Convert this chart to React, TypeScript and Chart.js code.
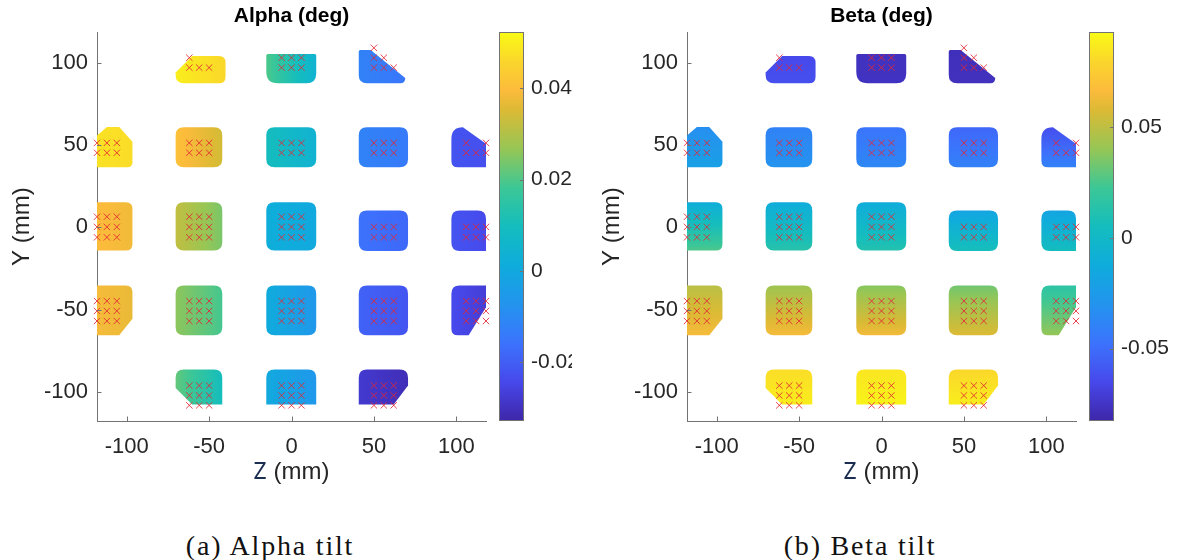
import { useEffect, useRef } from "react";
import { Chart, registerables } from "chart.js";

Chart.register(...registerables);

const SANS = '"Liberation Sans", Arial, sans-serif';
const TEXT = "#262626";
const AXIS = "#737373";
const MARK = "rgba(228, 38, 52, 0.85)";

// Axis limits and ticks (mm)
const zTicks = [-100, -50, 0, 50, 100];
const yTicks = [-100, -50, 0, 50, 100];
const zLimits = [-118, 118];
const yLimits = [-117.5, 118.5];

// Footprint of each measured patch (mm)
const patchZLo = [-70.3, -15.3, 40.8, -120, -70.3, -15.3, 40.8, 97, -120, -70.3, -15.3, 40.8, 97, -120, -70.3, -15.3, 40.8, 97, -70.3, -15.3, 40.8];
const patchZHi = [-40, 15, 69, -96.5, -42, 15, 70.7, 118, -96.5, -42, 15, 70.7, 118, -96.5, -42, 15, 70.7, 118, -42, 15, 70.7];
const patchYLo = [87.5, 87.5, 87.5, 36.5, 36.5, 36.5, 36.5, 36.5, -14, -14, -14, -14.3, -14.3, -65.5, -65.5, -65.5, -65.5, -65.5, -107.5, -107.5, -107.5];
const patchYHi = [104, 105.2, 107.7, 61, 60.8, 60.8, 60.8, 60.8, 15.3, 15.3, 15.3, 10.3, 10.3, -35.2, -35.2, -35.2, -35.2, -35.2, -86.3, -86.3, -86.3];
// Corner outline per patch [top-left, top-right, bottom-right, bottom-left]:
// a number is a rounding radius, a pair is a straight cut [dz, dy] (mm)
type Corner = number | [number, number];
const patchCorners: Corner[][] = [
  [[10, 10], 4, 4, 5],
  [1, 1, 6, 7],
  [1, [21, 17], 3, 5],
  [[8, 7], [8, 9], 3, 2],
  [5, 5, 5, 5],
  [5, 5, 5, 5],
  [5, 5, 5, 5],
  [7, [14, 10], 0, 4],
  [0, 4, 4, 0],
  [5, 5, 5, 5],
  [5, 5, 5, 5],
  [5, 5, 5, 5],
  [5, 5, 0, 5],
  [0, 4, [8, 10], 0],
  [5, 5, 5, 5],
  [5, 5, 5, 5],
  [5, 5, 5, 5],
  [5, 0, [10.5, 17], 4],
  [5, 5, 0, [10, 10]],
  [5, 5, 0, 0],
  [5, 5, [8.7, 11.5], 0],
];

// Alpha tilt (deg): value at the -Z edge and at the +Z edge of each patch
const alphaLeft = [0.05, 0.02, -0.012, 0.048, 0.041, 0.01, -0.012, -0.022, 0.04, 0.032, 0.002, -0.016, -0.022, 0.039, 0.026, 0.001, -0.019, -0.024, 0.022, 0.0, -0.028];
const alphaRight = [0.046, 0.004, -0.015, 0.047, 0.034, 0.004, -0.014, -0.023, 0.038, 0.024, 0.0, -0.018, -0.024, 0.037, 0.019, -0.006, -0.022, -0.027, 0.01, -0.006, -0.031];
const alphaRange = [-0.0329, 0.0523];
const alphaTicks = [-0.02, 0, 0.02, 0.04];

// Beta tilt (deg): value at the top edge and at the bottom edge of each patch
const betaTop = [-0.065, -0.077, -0.078, -0.033, -0.04, -0.047, -0.053, -0.063, -0.011, -0.012, -0.012, -0.018, -0.018, 0.049, 0.042, 0.037, 0.033, 0.016, 0.082, 0.085, 0.08];
const betaBottom = [-0.062, -0.076, -0.077, -0.021, -0.03, -0.037, -0.04, -0.04, 0.026, 0.014, 0.012, 0.007, 0.005, 0.065, 0.065, 0.064, 0.058, 0.04, 0.088, 0.09, 0.088];
const betaRange = [-0.0827, 0.0929];
const betaTicks = [-0.05, 0, 0.05];

// Measurement points: one row per Y, listing the Z positions in that row
const markerY = [109, 103, 97, 51.3, 45.3, 6.5, 0.3, -6, -44.7, -50.7, -56.8, -96, -102, -108];
const markerZ: number[][] = [
  [50],
  [-62, -6, 0, 6, 50, 56],
  [-62, -56, -50, -6, 0, 6, 50, 56, 62],
  [-118, -112, -106, -62, -56, -50, -6, 0, 6, 50, 56, 62, 106, 118],
  [-118, -112, -106, -62, -56, -50, -6, 0, 6, 50, 56, 62, 106, 112, 118],
  [-118, -112, -106, -62, -56, -50, -6, 0, 6],
  [-118, -112, -106, -62, -56, -50, -6, 0, 6, 50, 56, 62, 106, 112, 118],
  [-118, -112, -106, -62, -56, -50, -6, 0, 6, 50, 56, 62, 106, 112, 118],
  [-118, -112, -106, -62, -56, -50, -6, 0, 6, 50, 56, 62, 106, 112, 118],
  [-118, -112, -106, -62, -56, -50, -6, 0, 6, 50, 56, 62, 106, 112, 118],
  [-118, -112, -106, -62, -56, -50, -6, 0, 6, 50, 56, 62, 106, 112, 118],
  [-62, -56, -50, -6, 0, 6, 50, 56, 62],
  [-62, -56, -50, -6, 0, 6, 50, 56, 62],
  [-62, -56, -50, -6, 0, 6, 50, 56, 62],
];

// Parula-style colormap
const CMAP: [number, number, number, number][] = [
  [0.0, 62, 38, 168],
  [0.1, 71, 72, 235],
  [0.2, 60, 115, 253],
  [0.3, 35, 148, 238],
  [0.4, 15, 172, 220],
  [0.5, 20, 189, 190],
  [0.6, 60, 199, 150],
  [0.7, 150, 198, 85],
  [0.8, 220, 186, 52],
  [0.85, 252, 187, 60],
  [0.92, 250, 212, 45],
  [1.0, 249, 251, 20],
];

function cmap(t: number): string {
  const u = Math.max(0, Math.min(1, t));
  for (let i = 1; i < CMAP.length; i++) {
    const a = CMAP[i - 1];
    const b = CMAP[i];
    if (u <= b[0]) {
      const f = (u - a[0]) / (b[0] - a[0]);
      const c = [1, 2, 3].map((k) => Math.round(a[k] + (b[k] - a[k]) * f));
      return `rgb(${c[0]},${c[1]},${c[2]})`;
    }
  }
  const l = CMAP[CMAP.length - 1];
  return `rgb(${l[1]},${l[2]},${l[3]})`;
}

function cornerPx(c: Corner, kx: number, ky: number) {
  if (Array.isArray(c)) return { dx: c[0] * kx, dy: c[1] * ky, cut: true };
  return { dx: c * kx, dy: c * ky, cut: false };
}

function tracePatch(ctx: CanvasRenderingContext2D, L: number, T: number, R: number, B: number, corners: Corner[], kx: number, ky: number) {
  const [tl, tr, br, bl] = corners.map((c) => cornerPx(c, kx, ky));
  ctx.beginPath();
  ctx.moveTo(L + tl.dx, T);
  ctx.lineTo(R - tr.dx, T);
  if (tr.cut) ctx.lineTo(R, T + tr.dy);
  else ctx.quadraticCurveTo(R, T, R, T + tr.dy);
  ctx.lineTo(R, B - br.dy);
  if (br.cut) ctx.lineTo(R - br.dx, B);
  else ctx.quadraticCurveTo(R, B, R - br.dx, B);
  ctx.lineTo(L + bl.dx, B);
  if (bl.cut) ctx.lineTo(L, B - bl.dy);
  else ctx.quadraticCurveTo(L, B, L, B - bl.dy);
  ctx.lineTo(L, T + tl.dy);
  if (tl.cut) ctx.lineTo(L + tl.dx, T);
  else ctx.quadraticCurveTo(L, T, L + tl.dx, T);
  ctx.closePath();
}

// fixed axis footprint: no extra label overflow padding
function fixBox(s: any, size: number, horizontal: boolean) {
  if (horizontal) s.height = size;
  else s.width = size;
  s.paddingTop = 0;
  s.paddingBottom = 0;
  s.paddingLeft = 0;
  s.paddingRight = 0;
}

type PanelProps = {
  title: string;
  first: number[];
  second: number[];
  range: number[];
  cbTicks: number[];
  horizontal: boolean;
};

function Panel({ title, first, second, range, cbTicks, horizontal }: PanelProps) {
  const ref = useRef<HTMLCanvasElement>(null);

  useEffect(() => {
    const canvas = ref.current;
    if (!canvas) return;
    const [lo, hi] = range;
    const norm = (v: number) => (v - lo) / (hi - lo);
    const markerPoints = markerY.flatMap((y, i) => markerZ[i].map((z) => ({ x: z, y })));

    const panelPlugin = {
      id: "tiltPanel",
      beforeDatasetsDraw(chart: any) {
        const { ctx, chartArea } = chart;
        const xs = chart.scales.x;
        const ys = chart.scales.y;
        const kx = Math.abs(xs.getPixelForValue(1) - xs.getPixelForValue(0));
        const ky = Math.abs(ys.getPixelForValue(1) - ys.getPixelForValue(0));
        ctx.save();
        ctx.beginPath();
        ctx.rect(chartArea.left, chartArea.top, chartArea.right - chartArea.left, chartArea.bottom - chartArea.top);
        ctx.clip();
        for (let i = 0; i < patchZLo.length; i++) {
          const L = xs.getPixelForValue(patchZLo[i]);
          const R = xs.getPixelForValue(patchZHi[i]);
          const T = ys.getPixelForValue(patchYHi[i]);
          const B = ys.getPixelForValue(patchYLo[i]);
          tracePatch(ctx, L, T, R, B, patchCorners[i], kx, ky);
          const g = horizontal ? ctx.createLinearGradient(L, 0, R, 0) : ctx.createLinearGradient(0, T, 0, B);
          const n = 8;
          for (let s = 0; s <= n; s++) {
            const v = first[i] + ((second[i] - first[i]) * s) / n;
            g.addColorStop(s / n, cmap(norm(v)));
          }
          ctx.fillStyle = g;
          ctx.fill();
        }
        ctx.restore();
      },
      afterDraw(chart: any) {
        const { ctx, chartArea } = chart;
        const xs = chart.scales.x;
        const ys = chart.scales.y;
        const cb = chart.scales.cb;
        ctx.save();
        ctx.strokeStyle = AXIS;
        ctx.lineWidth = 1;
        // inward tick marks
        ctx.beginPath();
        for (const v of zTicks) {
          const px = Math.round(xs.getPixelForValue(v)) + 0.5;
          ctx.moveTo(px, chartArea.bottom);
          ctx.lineTo(px, chartArea.bottom - 4.5);
        }
        for (const v of yTicks) {
          const py = Math.round(ys.getPixelForValue(v)) + 0.5;
          ctx.moveTo(chartArea.left, py);
          ctx.lineTo(chartArea.left + 4.5, py);
        }
        ctx.stroke();

        // colorbar
        const cx0 = Math.round(chartArea.right + 12.5);
        const cw = 25;
        const ct = cb.top;
        const cbot = cb.bottom;
        const g = ctx.createLinearGradient(0, cbot, 0, ct);
        for (const s of CMAP) g.addColorStop(s[0], `rgb(${s[1]},${s[2]},${s[3]})`);
        ctx.fillStyle = g;
        ctx.fillRect(cx0, ct, cw, cbot - ct);
        ctx.strokeStyle = AXIS;
        ctx.strokeRect(cx0 + 0.5, Math.round(ct) + 0.5, cw - 1, Math.round(cbot - ct) - 1);
        ctx.beginPath();
        for (const v of cbTicks) {
          const py = Math.round(cb.getPixelForValue(v)) + 0.5;
          ctx.moveTo(cx0 + cw, py);
          ctx.lineTo(cx0 + cw - 4, py);
        }
        ctx.stroke();

        // Z axis title
        const cxMid = (chartArea.left + chartArea.right) / 2;
        const yMid = chartArea.bottom + 51;
        ctx.textBaseline = "middle";
        ctx.textAlign = "left";
        ctx.font = '23px "Noto Sans", sans-serif';
        const wz = ctx.measureText("Z").width;
        ctx.font = `24px ${SANS}`;
        const wr = ctx.measureText(" (mm)").width;
        const x0 = cxMid - (wz + wr) / 2;
        ctx.font = '23px "Noto Sans", sans-serif';
        ctx.fillStyle = "#1b2d50";
        ctx.fillText("Z", x0, yMid);
        ctx.font = `24px ${SANS}`;
        ctx.fillStyle = TEXT;
        ctx.fillText(" (mm)", x0 + wz, yMid);
        ctx.restore();
      },
    };

    const tickFont = { family: SANS, size: 22 };
    const chart = new Chart(canvas, {
      type: "scatter",
      data: {
        datasets: [
          {
            data: markerPoints,
            pointStyle: "crossRot",
            pointRadius: 4.5,
            borderColor: MARK,
            backgroundColor: MARK,
            borderWidth: 1,
            clip: false,
          } as any,
        ],
      },
      options: {
        animation: false,
        responsive: false,
        layout: { padding: 0 },
        plugins: {
          legend: { display: false },
          tooltip: { enabled: false },
          title: {
            display: true,
            text: title,
            color: "#000",
            font: { family: SANS, size: 21, weight: "bold" },
            padding: { top: 4, bottom: 3 },
            fullSize: false,
          } as any,
        },
        scales: {
          x: {
            type: "linear",
            position: "bottom",
            min: zLimits[0],
            max: zLimits[1],
            afterBuildTicks: (s: any) => {
              s.ticks = zTicks.map((v) => ({ value: v }));
            },
            afterFit: (s: any) => fixBox(s, 79, true),
            grid: { display: false, drawTicks: false },
            border: { display: true, color: AXIS, width: 1 },
            ticks: { font: tickFont, color: TEXT, padding: 12.5, maxRotation: 0, callback: (v: any) => String(v) },
          },
          y: {
            type: "linear",
            position: "left",
            min: yLimits[0],
            max: yLimits[1],
            afterBuildTicks: (s: any) => {
              s.ticks = yTicks.map((v) => ({ value: v }));
            },
            afterFit: (s: any) => fixBox(s, 97, false),
            grid: { display: false, drawTicks: false },
            border: { display: true, color: AXIS, width: 1 },
            ticks: { font: tickFont, color: TEXT, padding: 9, callback: (v: any) => String(v) },
            title: {
              display: true,
              text: "Y (mm)",
              color: TEXT,
              font: { family: SANS, size: 24 },
              padding: { top: 7.6, bottom: 0 },
            },
          },
          cb: {
            type: "linear",
            position: "right",
            min: lo,
            max: hi,
            afterBuildTicks: (s: any) => {
              s.ticks = cbTicks.map((v) => ({ value: v }));
            },
            afterFit: (s: any) => fixBox(s, 104, false),
            grid: { display: false, drawTicks: false },
            border: { display: false },
            ticks: { font: { family: SANS, size: 21 }, color: TEXT, padding: 45, callback: (v: any) => String(v) },
          },
        },
      } as any,
      plugins: [panelPlugin],
    });
    return () => chart.destroy();
  }, [title, first, second, range, cbTicks, horizontal]);

  return <canvas ref={ref} width={590} height={500} style={{ display: "block" }} />;
}

const captionStyle = {
  position: "absolute" as const,
  top: 532,
  width: 300,
  textAlign: "center" as const,
  fontFamily: '"Liberation Serif", "Times New Roman", serif',
  fontSize: 28,
  lineHeight: "28px",
  letterSpacing: "1.8px",
  color: "#111",
  whiteSpace: "nowrap" as const,
};

export default function App() {
  return (
    <div style={{ position: "fixed", left: 0, top: 0, width: 1180, height: 560, background: "#fff", overflow: "hidden" }}>
      <div style={{ position: "absolute", left: 0, top: 0, width: 572, height: 500, overflow: "hidden" }}>
        <Panel title="Alpha (deg)" first={alphaLeft} second={alphaRight} range={alphaRange} cbTicks={alphaTicks} horizontal={true} />
      </div>
      <div style={{ position: "absolute", left: 590, top: 0, width: 590, height: 500 }}>
        <Panel title="Beta (deg)" first={betaTop} second={betaBottom} range={betaRange} cbTicks={betaTicks} horizontal={false} />
      </div>
      <div style={{ ...captionStyle, left: 270 - 150 }}>(a) Alpha tilt</div>
      <div style={{ ...captionStyle, left: 860 - 150 }}>(b) Beta tilt</div>
    </div>
  );
}
